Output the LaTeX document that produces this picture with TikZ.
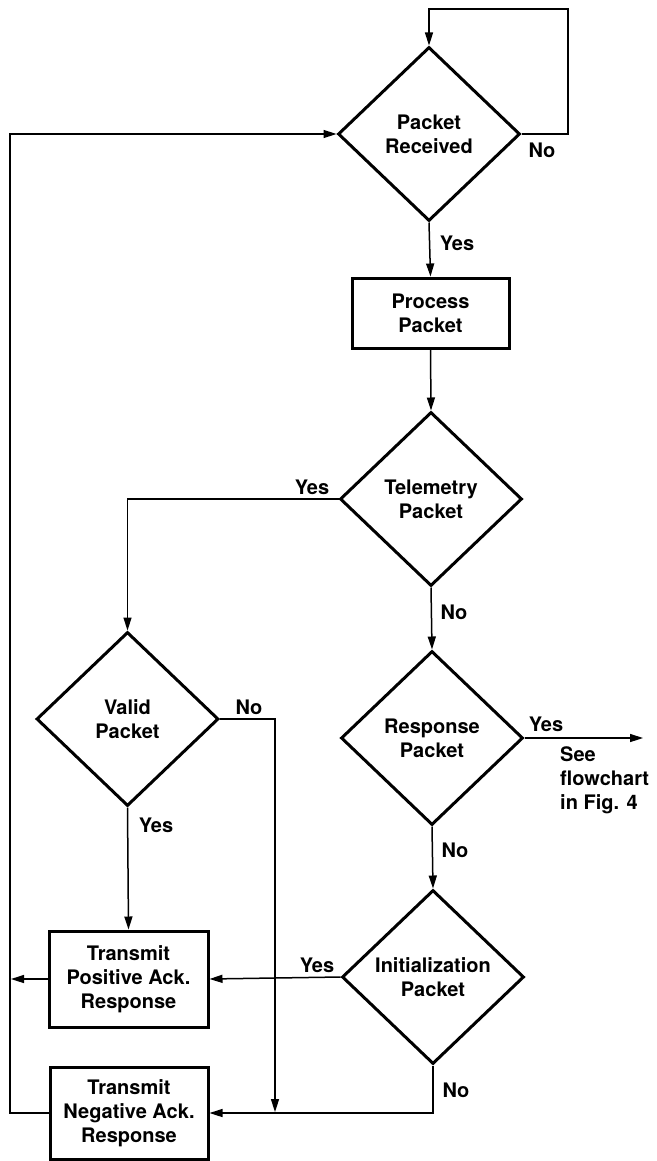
\documentclass[tikz,border=0pt]{standalone}
\usepackage{fontspec}
\setmainfont{TeX Gyre Heros}
\usetikzlibrary{shapes, arrows.meta, positioning}

\begin{document}
\begin{tikzpicture}[x=1pt, y=-1pt,
  every node/.style={font=\fontsize{20}{24}\selectfont\bfseries, align=center},
  decision/.style={diamond, draw, line width=3pt, inner sep=0pt, minimum width=182pt, minimum height=174pt},
  block/.style={rectangle, draw, line width=3pt, inner sep=0pt},
  flow/.style={line width=1.5pt, -{Triangle[length=13pt,width=8pt]}},
  lbl/.style={inner sep=0pt}]

\useasboundingbox (0,0) rectangle (656,1161);

%//decisions and blocks
\node [decision] (recv) at (429,134) {Packet\\Received};
\node [block, minimum width=157pt, minimum height=70pt] (proc) at (430.5,313) {Process\\Packet};
\node [decision] (telem) at (431,499) {Telemetry\\Packet};
\node [decision] (valid) at (127.5,719) {Valid\\Packet};
\node [decision] (resp) at (432,738) {Response\\Packet};
\node [decision] (init) at (433,977) {Initialization\\Packet};
\node [block, minimum width=159pt, minimum height=96pt] (pos) at (128.5,979) {Transmit\\Positive Ack.\\Response};
\node [block, minimum width=158pt, minimum height=92pt] (neg) at (129,1113) {Transmit\\Negative Ack.\\Response};

%//free ends
\coordinate (loop) at (568,9);
\coordinate (fig) at (643,738);
\coordinate (ret) at (10,600);
\coordinate (retpos) at (11,979);
\coordinate (jn) at (275,1112);

%//connectors
\draw [flow] (recv.east) -| (loop) -| (recv.north);
\draw [flow] (recv.south) -- (proc.north);
\draw [flow] (proc.south) -- (telem.north);
\draw [flow] (telem.west) -| (valid.north);
\draw [flow] (telem.south) -- (resp.north);
\draw [flow] (valid.east) -| (jn);
\draw [flow] (valid.south) -- (pos.north);
\draw [flow] (resp.east) -- (fig);
\draw [flow] (resp.south) -- (init.north);
\draw [flow] (init.west) -- (pos.east);
\draw [flow] (init.south) |- (neg.east);
\draw [flow] (pos.west) -- (retpos);
\draw [flow] (neg.west) -| (ret) |- (recv.west);

%//labels
\foreach \n/\x/\y/\t in {a/542/150/No, b/457/243/Yes, c/312/487/Yes, d/454/612/No,
  e/249/707/No, f/156/825/Yes, g/546/724/Yes, h/455/850/No, i/317/965/Yes, j/456/1090/No}
\node [lbl] (lbl\n) at (\x,\y) {\t};

\node [lbl, anchor=west, align=left] (seefig) at (560,780) {See\\flowchart\\in Fig. 4};
\end{tikzpicture}
\end{document}
